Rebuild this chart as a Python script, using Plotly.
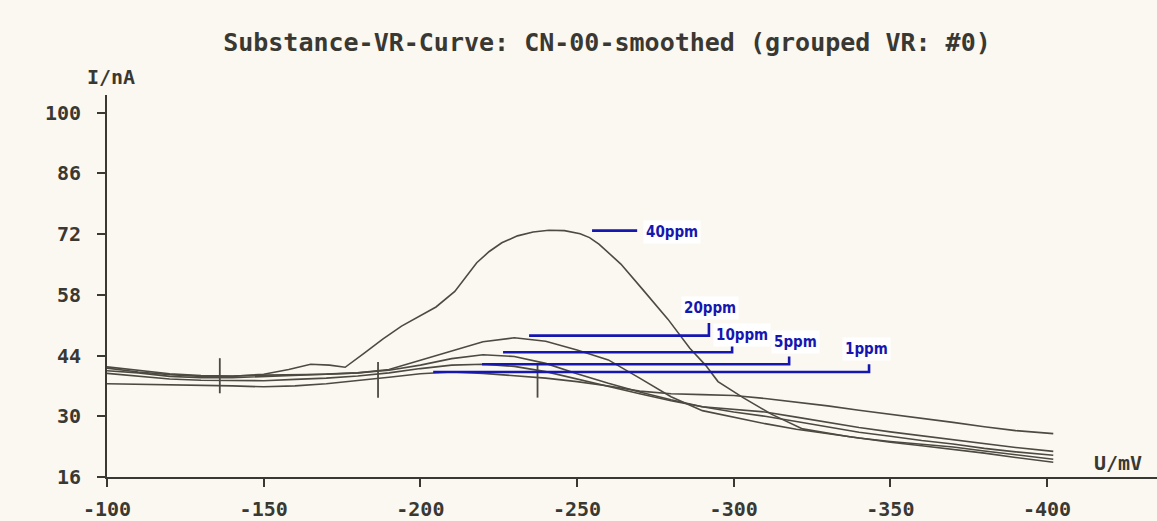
import plotly.graph_objects as go

# ---------------- data ----------------
x_grid = [-100, -110, -120, -130, -140, -150, -160, -170, -180, -190, -200,
          -210, -220, -230, -240, -250, -260, -270, -280, -290, -300,
          -310, -320, -330, -340, -350, -360, -370, -380, -390, -402]

i_1ppm = [37.5, 37.4, 37.3, 37.1, 37.0, 36.8, 37.0, 37.5, 38.2, 39.0, 39.8,
          40.2, 39.9, 39.3, 38.8, 38.0, 37.0, 35.8, 35.2, 35.0, 34.8,
          34.1, 33.3, 32.4, 31.4, 30.5, 29.5, 28.6, 27.6, 26.7, 26.0]
i_5ppm = [39.9, 39.2, 38.6, 38.3, 38.2, 38.2, 38.5, 38.8, 39.3, 40.0, 41.0,
          41.8, 42.0, 41.5, 40.3, 38.6, 36.8, 35.2, 33.6, 32.2, 31.0,
          30.0, 28.8, 27.5, 26.3, 25.4, 24.4, 23.6, 22.6, 21.8, 21.0]
i_10ppm = [40.5, 40.0, 39.2, 38.9, 38.9, 39.2, 39.5, 39.7, 40.0, 40.6, 41.8,
           43.3, 44.2, 43.8, 42.2, 39.8, 37.6, 35.6, 33.8, 32.2, 31.6,
           31.0, 29.8, 28.6, 27.4, 26.4, 25.5, 24.6, 23.6, 22.8, 21.9]
i_20ppm = [41.4, 40.6, 39.8, 39.4, 39.3, 39.5, 39.6, 39.7, 40.0, 40.8, 42.9,
           45.0, 47.2, 48.1, 47.3, 45.3, 43.0, 38.8, 34.5, 31.3, 29.8,
           28.3, 27.0, 26.0, 25.0, 24.2, 23.6, 22.9, 22.0, 21.1, 20.1]

x_40ppm = [-100, -110, -120, -130, -140, -150, -158, -165, -171, -176, -182,
           -188, -194, -200, -205, -211, -215, -218, -222, -226, -231, -236,
           -241, -246, -251, -254, -257, -264, -271, -279, -286, -291, -295,
           -303, -312, -322, -337, -350, -360, -370, -380, -390, -402]
i_40ppm = [41.1, 40.2, 39.6, 39.2, 39.2, 39.7, 40.8, 42.0, 41.8, 41.3, 44.5,
           47.8, 50.8, 53.2, 55.2, 58.8, 62.5, 65.4, 68.0, 70.0, 71.6, 72.5,
           72.9, 72.8, 72.1, 71.2, 69.7, 65.1, 59.2, 52.4, 45.7, 41.8, 38.0,
           34.3, 30.5, 27.1, 25.3, 24.0, 23.2, 22.4, 21.5, 20.5, 19.4]

# vertical baseline markers
mark_x = [-136, -186.5, -237.4]
mark_lo = [35.3, 34.3, 34.3]
mark_hi = [43.4, 42.5, 42.3]

# concentration labels with leader lines
lab_text = ["40ppm", "20ppm", "10ppm", "5ppm", "1ppm"]
lab_line_x0 = [-254.8, -234.7, -226.4, -219.7, -204.1]
lab_line_x1 = [-269.2, -292.1, -299.5, -317.7, -343.2]
lab_line_y = [72.8, 48.6, 44.75, 42.0, 40.2]
lab_tick_top = [72.8, 51.5, 46.8, 43.8, 42.0]
lab_text_x = [-271.1, -292.5, -302.7, -319.6, -342.3]
lab_text_y = [72.4, 54.9, 48.8, 47.2, 45.4]
lab_anchor = ["left", "center", "center", "center", "center"]

y_ticks = [16, 30, 44, 58, 72, 86, 100]
x_ticks = [-100, -150, -200, -250, -300, -350, -400]

# ---------------- figure ----------------
curve_col = "#4d4a42"
blue = "#1616b0"
bg = "#fbf8f1"
ink = "#3a3832"
mono = "DejaVu Sans Mono"

fig = go.Figure()

curves = [(x_grid, i_1ppm), (x_grid, i_5ppm), (x_grid, i_10ppm),
          (x_grid, i_20ppm), (x_40ppm, i_40ppm)]
for xs, ys in curves:
    fig.add_trace(go.Scatter(x=xs, y=ys, mode="lines",
                             line=dict(color=curve_col, width=1.6),
                             showlegend=False, hoverinfo="skip"))

mx, my = [], []
for x, lo, hi in zip(mark_x, mark_lo, mark_hi):
    mx += [x, x, None]
    my += [lo, hi, None]
fig.add_trace(go.Scatter(x=mx, y=my, mode="lines",
                         line=dict(color=curve_col, width=1.8),
                         showlegend=False, hoverinfo="skip"))

bx, by = [], []
for x0, x1, y, yt in zip(lab_line_x0, lab_line_x1, lab_line_y, lab_tick_top):
    bx += [x0, x1, x1, None]
    by += [y, y, yt, None]
fig.add_trace(go.Scatter(x=bx, y=by, mode="lines",
                         line=dict(color=blue, width=2.6),
                         showlegend=False, hoverinfo="skip"))

for t, x, y, a in zip(lab_text, lab_text_x, lab_text_y, lab_anchor):
    fig.add_annotation(x=x, y=y, text=t, showarrow=False, xanchor=a,
                       yanchor="middle", bgcolor="#ffffff", borderpad=2,
                       font=dict(family="Liberation Sans Narrow, DejaVu Sans Condensed, sans-serif",
                                 size=15, color=blue, weight="bold"))

fig.add_annotation(xref="paper", yref="paper", x=0.004, y=1.046,
                   text="I/nA", showarrow=False, xanchor="center", yanchor="middle",
                   font=dict(family=mono, size=20, color=ink, weight="bold"))
fig.add_annotation(xref="paper", yref="paper", x=0.963, y=0.036,
                   text="U/mV", showarrow=False, xanchor="center", yanchor="middle",
                   font=dict(family=mono, size=20, color=ink, weight="bold"))

fig.update_layout(
    width=1157, height=521,
    margin=dict(l=107, r=0, t=95, b=37),
    paper_bgcolor=bg, plot_bgcolor=bg,
    title=dict(text="Substance-VR-Curve: CN-00-smoothed (grouped VR: #0)",
               x=0.5246, y=0.919, xanchor="center", yanchor="middle",
               font=dict(family=mono, size=25, color=ink, weight="bold")),
    xaxis=dict(range=[-100, -435.1], tickvals=x_ticks,
               ticktext=[str(v) for v in x_ticks],
               showgrid=False, zeroline=False, showline=True,
               linecolor=ink, linewidth=2,
               ticks="outside", ticklen=8, tickwidth=1.5, tickcolor=ink,
               ticklabelstandoff=5,
               tickfont=dict(family=mono, size=20, color=ink, weight="bold")),
    yaxis=dict(range=[16, 104.08], tickvals=y_ticks,
               showgrid=False, zeroline=False, showline=True,
               linecolor=ink, linewidth=2,
               ticks="outside", ticklen=8, tickwidth=1.5, tickcolor=ink,
               ticklabelstandoff=12,
               tickfont=dict(family=mono, size=20, color=ink, weight="bold")),
)

fig.write_html("out.html", config={"displayModeBar": False},
               post_script="document.body.style.margin='0';"
                           "document.body.style.overflow='hidden';"
                           "document.body.style.background='" + bg + "';")
